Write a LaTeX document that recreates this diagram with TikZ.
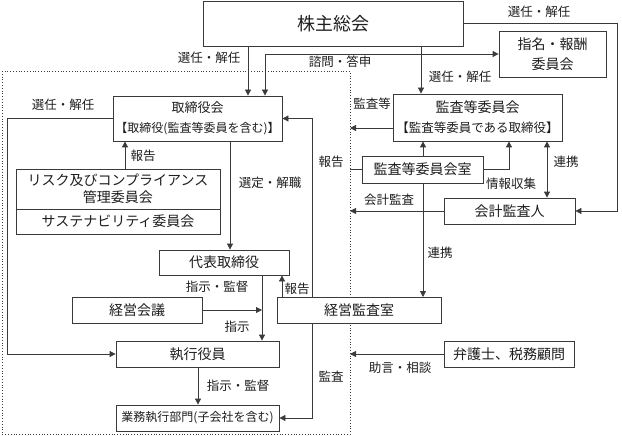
\documentclass[tikz,border=0pt]{standalone}
\usepackage{fontspec}
\setmainfont{Noto Sans CJK JP}
\usetikzlibrary{arrows.meta}
\definecolor{ln}{HTML}{3A3A3A}
\definecolor{tx}{HTML}{1E1E1E}
\tikzset{
  >={Triangle[length=6pt,width=6pt]},
  box/.style 2 args={draw=ln,line width=0.8pt,fill=white,inner sep=0pt,
    minimum width=#1,minimum height=#2,align=center,text=tx,
    font=\fontsize{14}{20}\selectfont},
  conn/.style={draw=ln,line width=0.8pt},
  lbl/.style={inner sep=0pt,text=tx,font=\fontsize{12.5}{14}\selectfont},
}
\begin{document}
\begin{tikzpicture}[x=1pt,y=-1pt]
\useasboundingbox (0,0) rectangle (622,436);
% dotted company boundary
\draw[ln,line width=0.8pt,dotted] (2,71) rectangle (350,434.5);
% helper coordinates for vertical/horizontal runs
\coordinate (x7) at (7,0);
\coordinate (x125) at (125,0);
\coordinate (x198) at (198,0);
\coordinate (x230) at (230,0);
\coordinate (x248) at (248,0);
\coordinate (x262) at (262,0);
\coordinate (x265) at (265,0);
\coordinate (x282) at (282,0);
\coordinate (x312) at (312,0);
\coordinate (x350) at (350,0);
\coordinate (x421) at (421,0);
\coordinate (x423) at (423,0);
\coordinate (x509) at (509,0);
\coordinate (x547) at (547,0);
\coordinate (x617) at (617,0);
\coordinate (kansaend) at (350,128);

% connector under the 監査等委員会室 box
\draw[conn,->] (423,183) -- (423,297);

% boxes
\node[box={260pt}{45pt},font=\fontsize{18}{20}\selectfont] (kabu) at (333,23.5) {株主総会};
\node[box={107pt}{46pt}] (shimei) at (552.5,54) {指名・報酬\\委員会};
\node[box={169pt}{45pt},font=\fontsize{13}{20}\selectfont] (tori) at (197.5,118.5) {取締役会\\{\fontsize{12}{20}\selectfont【取締役(監査等委員を含む)】}};
\node[box={169pt}{47pt}] (kansa) at (477.5,117.5) {監査等委員会\\{\fontsize{12.5}{20}\selectfont【監査等委員である取締役】}};
\node[box={204pt}{40pt},font=\fontsize{14}{17}\selectfont] (risk1) at (118,189) {リスク及びコンプライアンス\\管理委員会};
\node[box={204pt}{25pt}] (risk2) at (118,221.5) {サステナビリティ委員会};
\node[box={121pt}{27pt}] (kshitsu) at (422.5,169.5) {監査等委員会室};
\node[box={131pt}{26pt}] (kaikei) at (509.5,211) {会計監査人};
\node[box={130pt}{25pt}] (daihyo) at (224,262.5) {代表取締役};
\node[box={130pt}{26pt}] (keiei) at (137,310) {経営会議};
\node[box={164pt}{26pt}] (kkansa) at (359,310) {経営監査室};
\node[box={130pt}{26pt}] (bengo) at (509,354) {弁護士、税務顧問};
\node[box={163pt}{26pt}] (shikko) at (197.5,354) {執行役員};
\node[box={163pt}{26pt},font=\fontsize{12}{14}\selectfont] (gyomu) at (197.5,418) {業務執行部門(子会社を含む)};

% connectors
\draw[conn,->] (kabu.south -| x248) -- (tori.north -| x248);
\draw[conn,<->] (shimei.west) -| (tori.north -| x265);
\draw[conn,->] (kabu.south -| x421) -- (kansa.north -| x421);
\draw[conn,->] (kabu.east) -| (x617 |- kaikei.east) -- (kaikei.east);
\draw[conn,->] (kansaend -| kansa.west) -- (kansaend);
\draw[conn,->] (tori.west) -| (x7 |- shikko.west) -- (shikko.west);
\draw[conn,->] (risk1.north -| x125) -- (tori.south -| x125);
\draw[conn,->] (tori.south -| x230) -- (daihyo.north -| x230);
\draw[conn,->] (kkansa.north -| x312) |- (tori.east);
\draw[conn] (kshitsu.west) -- (kshitsu.west -| x350);
\draw[conn,->] (kshitsu.north -| x423) -- (kansa.south -| x423);
\draw[conn,->] (kshitsu.east) -| (kansa.south -| x509);
\draw[conn,<->] (kansa.south -| x547) -- (kaikei.north -| x547);
\draw[conn,->] (kaikei.west) -- (kaikei.west -| x350);
\draw[conn,->] (daihyo.south -| x262) -- (shikko.north -| x262);
\draw[conn,->] (keiei.east) -- (keiei.east -| x262);
\draw[conn,->] (kkansa.north -| x282) -- (daihyo.south -| x282);
\draw[conn,->] (kkansa.south -| x312) |- (gyomu.east);
\draw[conn,->] (shikko.south -| x198) -- (gyomu.north -| x198);
\draw[conn,->] (bengo.west) -- (bengo.west -| x350);

% labels
\node[lbl] (l1) at (209,58) {選任・解任};
\node[lbl] (l2) at (340,62) {諮問・答申};
\node[lbl] (l3) at (460,77) {選任・解任};
\node[lbl] (l4) at (539,12) {選任・解任};
\node[lbl] (l5) at (372,104) {監査等};
\node[lbl] (l6) at (63,105) {選任・解任};
\node[lbl] (l7) at (143,156) {報告};
\node[lbl] (l8) at (270,183) {選定・解職};
\node[lbl] (l9) at (331,162) {報告};
\node[lbl] (l10) at (511,184) {情報収集};
\node[lbl] (l11) at (566,162) {連携};
\node[lbl] (l12) at (389,200) {会計監査};
\node[lbl] (l13) at (440,253) {連携};
\node[lbl] (l14) at (217,287) {指示・監督};
\node[lbl] (l15) at (297,289) {報告};
\node[lbl] (l16) at (237,327) {指示};
\node[lbl] (l17) at (331,377) {監査};
\node[lbl] (l18) at (238,386) {指示・監督};
\node[lbl] (l19) at (400,368) {助言・相談};
\end{tikzpicture}
\end{document}
